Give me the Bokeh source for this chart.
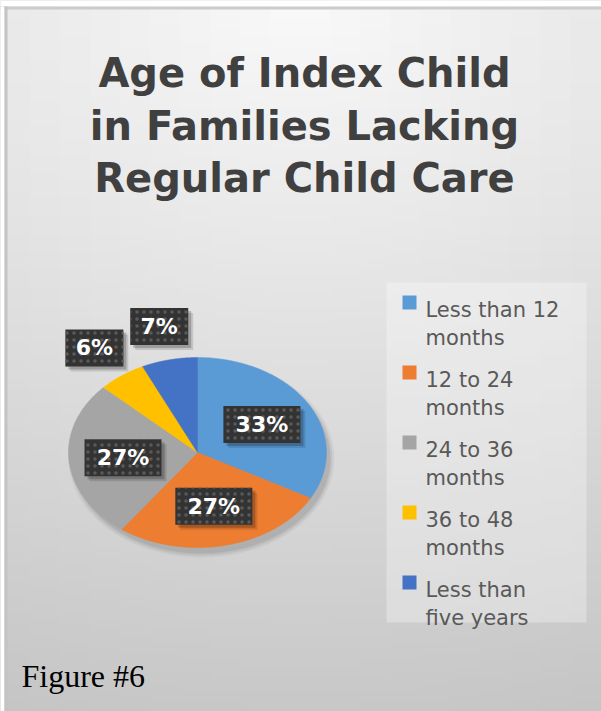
import numpy as np
from bokeh.plotting import figure
from bokeh.models import Range1d
from bokeh.core.properties import value
from bokeh.embed import file_html
from bokeh.resources import INLINE

# ---- data ----
categories = ["Less than 12 months", "12 to 24 months", "24 to 36 months",
              "36 to 48 months", "Less than five years"]
legend_lines = [["Less than 12", "months"], ["12 to 24", "months"], ["24 to 36", "months"],
                ["36 to 48", "months"], ["Less than", "five years"]]
percents = [33, 27, 27, 6, 7]
colors = ["#5B9BD5", "#ED7D31", "#A5A5A5", "#FFC000", "#4472C4"]
title_lines = ["Age of Index Child", "in Families Lacking", "Regular Child Care"]
caption = "Figure #6"

W, H = 601, 711
def Y(y):  # image-space y (from top) to plot y
    return H - y

p = figure(width=W, height=H, output_backend="svg", toolbar_location=None,
           x_range=Range1d(0, W), y_range=Range1d(0, H), min_border=0)
p.axis.visible = False
p.grid.visible = False
p.outline_line_color = None
p.background_fill_color = "#d0d0d0"
p.border_fill_color = "#d0d0d0"

# ---- background gradient (horizontal bands x columns of quads) ----
def shade(px, py):
    d = np.sqrt(((px - 300) ** 2) * 0.6 + py ** 2)
    return np.clip(249 - 0.07 * d, 0, 255)

step = 6
gl, gr, gt, gb, gc = [], [], [], [], []
for y0 in range(0, H, step):
    for x0 in range(0, W, 30):
        s = int(round(shade(x0 + 15, y0 + step / 2)))
        gl.append(x0); gr.append(min(x0 + 30, W) + 0.5)
        gt.append(Y(y0) + 0.5); gb.append(Y(min(y0 + step, H)))
        gc.append("#%02x%02x%02x" % (s, s, s))
p.quad(left=gl, right=gr, top=gt, bottom=gb, fill_color=gc, line_color=None)

# frame
p.quad(left=0, right=W, top=Y(0), bottom=Y(6), fill_color="white", line_color=None)
p.quad(left=0, right=W, top=Y(6), bottom=Y(9), fill_color="#cbcbcb", line_color=None)
p.quad(left=0, right=4, top=Y(6), bottom=Y(H), fill_color="white", line_color=None)
p.quad(left=4, right=7, top=Y(6), bottom=Y(H), fill_color="#c4c4c4", line_color=None)

# ---- title ----
p.text(x=[304] * 3, y=[Y(72), Y(125), Y(177)], text=title_lines,
       text_font=value("DejaVu Sans"), text_font_style="bold", text_font_size="40px",
       text_color="#404040", text_align="center", text_baseline="alphabetic")

# ---- pie (elliptical) ----
cx, cy = 197, Y(452)
rx, ry = 129, 95
vals = np.array(percents, dtype=float)
fr = np.concatenate([[0], np.cumsum(vals) / vals.sum()])

# soft shadow (bottom-right)
t = np.linspace(0, 2 * np.pi, 200)
for k, a in [(4, 0.04), (2, 0.06), (0, 0.08)]:
    p.patch(cx + 4 + (rx + k) * np.cos(t), cy - 6 + (ry + k) * np.sin(t),
            fill_color="black", fill_alpha=a, line_color=None)

pxs, pys = [], []
for i in range(len(vals)):
    tt = np.pi / 2 - 2 * np.pi * np.linspace(fr[i], fr[i + 1], 120)
    pxs.append(np.concatenate([[cx], cx + rx * np.cos(tt)]))
    pys.append(np.concatenate([[cy], cy + ry * np.sin(tt)]))
p.patches(pxs, pys, fill_color=colors, line_color=colors, line_width=0.5)

# ---- data labels ----
mid = np.pi / 2 - 2 * np.pi * (fr[:-1] + fr[1:]) / 2
rf = np.where(vals / vals.sum() < 0.1, 1.36, 0.58)
lx = cx + rf * rx * np.cos(mid)
ly = cy + rf * ry * np.sin(mid)
labels = [f"{int(v_)}%" for v_ in percents]
bw = np.array([19 * len(s) + 20 for s in labels])
bh = 37
for off, a in [(5, 0.12), (3, 0.2)]:
    p.rect(x=lx + off, y=ly - off, width=bw, height=bh, fill_color="black",
           fill_alpha=a, line_color=None)
p.rect(x=lx, y=ly, width=bw, height=bh, fill_color="#333333", line_color=None,
       hatch_pattern="dot", hatch_color="#5a5a5a", hatch_scale=7, hatch_weight=1.5)
p.text(x=lx, y=ly, text=labels, text_font=value("DejaVu Sans"), text_font_style="bold",
       text_font_size="22px", text_color="white", text_align="center",
       text_baseline="middle")

# ---- legend ----
p.quad(left=386, right=586, top=Y(282), bottom=Y(622), fill_color="white",
       fill_alpha=0.3, line_color=None)
base = np.array([309 + 70 * i for i in range(len(categories))])
p.rect(x=[409] * len(categories), y=[Y(b - 7) for b in base], width=14, height=14,
       fill_color=colors, line_color=None)
p.text(x=[425] * len(categories), y=[Y(b) for b in base], text=[l[0] for l in legend_lines],
       text_font=value("DejaVu Sans"), text_font_size="21px", text_color="#595959",
       text_align="left", text_baseline="alphabetic")
p.text(x=[425] * len(categories), y=[Y(b + 28) for b in base], text=[l[1] for l in legend_lines],
       text_font=value("DejaVu Sans"), text_font_size="21px", text_color="#595959",
       text_align="left", text_baseline="alphabetic")

# ---- caption ----
p.text(x=[21], y=[Y(675)], text=[caption], text_font=value("Liberation Serif"),
       text_font_size="32px", text_color="black", text_align="left",
       text_baseline="alphabetic")

open("out.html", "w").write(file_html(p, INLINE))
